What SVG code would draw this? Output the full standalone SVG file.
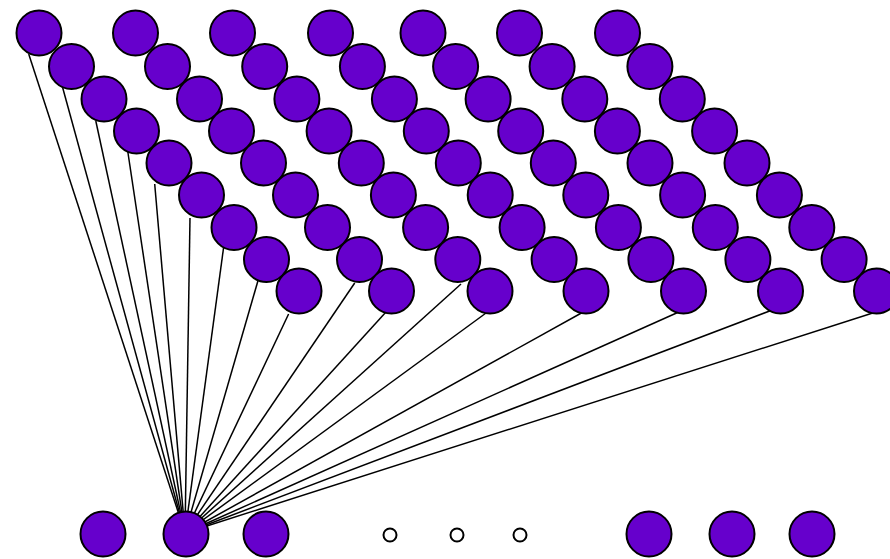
<svg xmlns="http://www.w3.org/2000/svg" width="890" height="559" viewBox="0 0 890 559">
<style>
.n{fill:#6600cc;stroke:#000;stroke-width:2}
.s{fill:#fff;stroke:#000;stroke-width:2}
.e line{stroke:#000;stroke-width:1.5}
</style>
<rect width="890" height="559" fill="#fff"/>
<g id="connectors" class="e">
<line x1="28.7" y1="54" x2="185" y2="533"/>
<line x1="62.2" y1="86" x2="185" y2="533"/>
<line x1="95.8" y1="121" x2="185" y2="533"/>
<line x1="127.7" y1="151" x2="185" y2="533"/>
<line x1="154.7" y1="184" x2="185" y2="533"/>
<line x1="190" y1="218" x2="185" y2="533"/>
<line x1="223.8" y1="246" x2="185" y2="533"/>
<line x1="257.9" y1="281" x2="185" y2="533"/>
<line x1="288.6" y1="314" x2="185" y2="533"/>
<line x1="354.7" y1="283" x2="185" y2="533"/>
<line x1="386.9" y1="311" x2="185" y2="533"/>
<line x1="461" y1="284" x2="185" y2="533"/>
<line x1="488.8" y1="311" x2="185" y2="533"/>
<line x1="585" y1="311" x2="185" y2="533"/>
<line x1="681" y1="311" x2="185" y2="533"/>
<line x1="777.5" y1="308" x2="185" y2="533"/>
<line x1="879" y1="311" x2="185" y2="533"/>
</g>
<g id="chain1">
<g id="c1-1"><circle class="n" cx="39" cy="33" r="22.5"/></g>
<g id="c1-2"><circle class="n" cx="71.5" cy="66.5" r="22.5"/></g>
<g id="c1-3"><circle class="n" cx="104" cy="99" r="22.5"/></g>
<g id="c1-4"><circle class="n" cx="136.5" cy="131" r="22.5"/></g>
<g id="c1-5"><circle class="n" cx="169" cy="163" r="22.5"/></g>
<g id="c1-6"><circle class="n" cx="201.5" cy="195" r="22.5"/></g>
<g id="c1-7"><circle class="n" cx="234" cy="227.5" r="22.5"/></g>
<g id="c1-8"><circle class="n" cx="266.5" cy="259.5" r="22.5"/></g>
<g id="c1-9"><circle class="n" cx="299" cy="291" r="22.5"/></g>
</g>
<g id="chain2">
<g id="c2-1"><circle class="n" cx="135.5" cy="33" r="22.5"/></g>
<g id="c2-2"><circle class="n" cx="167.5" cy="66.5" r="22.5"/></g>
<g id="c2-3"><circle class="n" cx="199.5" cy="99" r="22.5"/></g>
<g id="c2-4"><circle class="n" cx="231.5" cy="131" r="22.5"/></g>
<g id="c2-5"><circle class="n" cx="263.5" cy="163" r="22.5"/></g>
<g id="c2-6"><circle class="n" cx="295.5" cy="195" r="22.5"/></g>
<g id="c2-7"><circle class="n" cx="327.5" cy="227.5" r="22.5"/></g>
<g id="c2-8"><circle class="n" cx="359.5" cy="259.5" r="22.5"/></g>
<g id="c2-9"><circle class="n" cx="391.5" cy="291" r="22.5"/></g>
</g>
<g id="chain3">
<g id="c3-1"><circle class="n" cx="232.5" cy="33" r="22.5"/></g>
<g id="c3-2"><circle class="n" cx="264.7" cy="66.5" r="22.5"/></g>
<g id="c3-3"><circle class="n" cx="296.9" cy="99" r="22.5"/></g>
<g id="c3-4"><circle class="n" cx="329.1" cy="131" r="22.5"/></g>
<g id="c3-5"><circle class="n" cx="361.3" cy="163" r="22.5"/></g>
<g id="c3-6"><circle class="n" cx="393.4" cy="195" r="22.5"/></g>
<g id="c3-7"><circle class="n" cx="425.6" cy="227.5" r="22.5"/></g>
<g id="c3-8"><circle class="n" cx="457.8" cy="259.5" r="22.5"/></g>
<g id="c3-9"><circle class="n" cx="490" cy="291" r="22.5"/></g>
</g>
<g id="chain4">
<g id="c4-1"><circle class="n" cx="330.5" cy="33" r="22.5"/></g>
<g id="c4-2"><circle class="n" cx="362.4" cy="66.5" r="22.5"/></g>
<g id="c4-3"><circle class="n" cx="394.4" cy="99" r="22.5"/></g>
<g id="c4-4"><circle class="n" cx="426.3" cy="131" r="22.5"/></g>
<g id="c4-5"><circle class="n" cx="458.3" cy="163" r="22.5"/></g>
<g id="c4-6"><circle class="n" cx="490.2" cy="195" r="22.5"/></g>
<g id="c4-7"><circle class="n" cx="522.1" cy="227.5" r="22.5"/></g>
<g id="c4-8"><circle class="n" cx="554.1" cy="259.5" r="22.5"/></g>
<g id="c4-9"><circle class="n" cx="586" cy="291" r="22.5"/></g>
</g>
<g id="chain5">
<g id="c5-1"><circle class="n" cx="423" cy="33" r="22.5"/></g>
<g id="c5-2"><circle class="n" cx="455.6" cy="66.5" r="22.5"/></g>
<g id="c5-3"><circle class="n" cx="488.1" cy="99" r="22.5"/></g>
<g id="c5-4"><circle class="n" cx="520.7" cy="131" r="22.5"/></g>
<g id="c5-5"><circle class="n" cx="553.3" cy="163" r="22.5"/></g>
<g id="c5-6"><circle class="n" cx="585.8" cy="195" r="22.5"/></g>
<g id="c5-7"><circle class="n" cx="618.4" cy="227.5" r="22.5"/></g>
<g id="c5-8"><circle class="n" cx="650.9" cy="259.5" r="22.5"/></g>
<g id="c5-9"><circle class="n" cx="683.5" cy="291" r="22.5"/></g>
</g>
<g id="chain6">
<g id="c6-1"><circle class="n" cx="519.5" cy="33" r="22.5"/></g>
<g id="c6-2"><circle class="n" cx="552.1" cy="66.5" r="22.5"/></g>
<g id="c6-3"><circle class="n" cx="584.8" cy="99" r="22.5"/></g>
<g id="c6-4"><circle class="n" cx="617.4" cy="131" r="22.5"/></g>
<g id="c6-5"><circle class="n" cx="650" cy="163" r="22.5"/></g>
<g id="c6-6"><circle class="n" cx="682.6" cy="195" r="22.5"/></g>
<g id="c6-7"><circle class="n" cx="715.3" cy="227.5" r="22.5"/></g>
<g id="c6-8"><circle class="n" cx="747.9" cy="259.5" r="22.5"/></g>
<g id="c6-9"><circle class="n" cx="780.5" cy="291" r="22.5"/></g>
</g>
<g id="chain7">
<g id="c7-1"><circle class="n" cx="617.5" cy="33" r="22.5"/></g>
<g id="c7-2"><circle class="n" cx="649.9" cy="66.5" r="22.5"/></g>
<g id="c7-3"><circle class="n" cx="682.3" cy="99" r="22.5"/></g>
<g id="c7-4"><circle class="n" cx="714.6" cy="131" r="22.5"/></g>
<g id="c7-5"><circle class="n" cx="747" cy="163" r="22.5"/></g>
<g id="c7-6"><circle class="n" cx="779.4" cy="195" r="22.5"/></g>
<g id="c7-7"><circle class="n" cx="811.8" cy="227.5" r="22.5"/></g>
<g id="c7-8"><circle class="n" cx="844.1" cy="259.5" r="22.5"/></g>
<g id="c7-9"><circle class="n" cx="876.5" cy="291" r="22.5"/></g>
</g>
<g id="bottom">
<g id="b1"><circle class="n" cx="103" cy="534" r="22.5"/></g>
<g id="b2"><circle class="n" cx="186" cy="534" r="22.5"/></g>
<g id="b3"><circle class="n" cx="266" cy="534" r="22.5"/></g>
<g id="d1"><circle class="s" cx="390" cy="535" r="6.5"/></g>
<g id="d2"><circle class="s" cx="457" cy="535" r="6.5"/></g>
<g id="d3"><circle class="s" cx="520" cy="535" r="6.5"/></g>
<g id="b4"><circle class="n" cx="649" cy="534" r="22.5"/></g>
<g id="b5"><circle class="n" cx="732" cy="534" r="22.5"/></g>
<g id="b6"><circle class="n" cx="812" cy="534" r="22.5"/></g>
</g>
</svg>
